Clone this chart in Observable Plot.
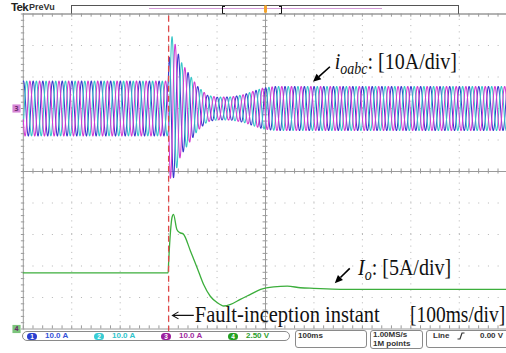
<!DOCTYPE html>
<html>
<head>
<meta charset="utf-8">
<script src="https://cdn.jsdelivr.net/npm/d3@7"></script>
<script src="https://cdn.jsdelivr.net/npm/@observablehq/plot@0.6"></script>
<style>
  html, body { margin: 0; padding: 0; background: #fff; }
  body { width: 506px; height: 353px; overflow: hidden; position: relative;
         font-family: "Liberation Sans", Arial, sans-serif; }
  .abs { position: absolute; }
  #chart { position: absolute; left: 0; top: 13px; }
  #chart svg { overflow: visible; }
  .box { position: absolute; border: 1px solid #8a8a8a; box-sizing: border-box; background: #fff; }
  .st { position: absolute; font-size: 8px; font-weight: bold; color: #333; white-space: nowrap; line-height: 8px; }
  .badge { position: absolute; width: 10px; height: 7px; border-radius: 4px; color: #fff;
           font-size: 6.5px; font-weight: bold; text-align: center; line-height: 7px; }
</style>
</head>
<body>
<div id="hdr"></div>
<div id="chart"></div>
<div id="ftr"></div>
<script>
// ---- acquisition settings ----
const msPerDiv = 100;          // horizontal scale
const phaseAPerDiv = 10;       // ch1-ch3, load currents
const ioAPerDiv = 5;           // ch4, output current magnitude
const phaseGroundDiv = 2;      // ch1-ch3 ground level, divisions above centre
const ioGroundDiv = -5;        // ch4 ground level
const faultTime = 300;         // ms, fault inception
const lineHz = 50;

// ---- load currents i_oabc: peak envelope (ms, A) ----
const envTime = [0, 299, 303, 308, 325, 342, 360, 380, 400, 430, 455, 475, 495, 520, 1000];
const envAmp  = [8.7, 8.7, 22, 23, 15, 11, 7, 4.2, 3.6, 3.7, 4.4, 5.5, 6.5, 7.0, 7.0];
const phaseNames  = ["ia", "ib", "ic"];
const phaseLeadDeg = [120, 0, -120];   // relative to the phase peaking at refPeak
const refPeak = 307;                    // ms

// ---- output current magnitude I_o (ms, A) ----
const ioTime = [0, 299, 300, 304, 307, 310, 317, 323, 330, 345, 359, 372, 386, 400, 414,
                428, 448, 469, 490, 517, 545, 572, 600, 655, 800, 1000];
const ioAmp  = [8.9, 8.9, 10.5, 15.6, 17.7, 18.2, 15.8, 15.3, 15.1, 12.4, 9.7, 7.1, 5.2, 4.2, 3.65,
                3.9, 4.7, 5.5, 6.3, 6.7, 6.8, 6.55, 6.45, 6.3, 6.3, 6.3];

// ---- status bar ----
const chanNum   = [1, 2, 3, 4];
const chanScale = ["10.0 A", "10.0 A", "10.0 A", "2.50 V"];
const horizText = "100ms";
const rateText  = ["1.00MS/s", "1M points"];
const trigText  = ["Line", "0.00 V"];

// colours
const traceColor = ["#3a3acc", "#38c6c8", "#d23cd2"];
const ioColor = "#3cae3c";
const badgeColor = ["#2a3fd0", "#38ccd4", "#9b1d9b", "#22a022"];
const labelColor = ["#3552d8", "#30c4cc", "#a02aa0", "#2c9e2c"];

// ---- build trace tables ----
const env = d3.scaleLinear().domain(envTime).range(envAmp);
const w = 2 * Math.PI * lineHz / 1000;
const phaseRows = phaseNames.map((name, k) => {
  const rows = [];
  for (let t = 0; t <= 1000; t += 0.25) {
    rows.push({t, i: env(t) * Math.cos(w * (t - refPeak) + phaseLeadDeg[k] * Math.PI / 180)});
  }
  return rows;
});
const ioRows = ioTime.map((t, j) => ({t, a: ioAmp[j]}));

// graticule helpers
const majorX = d3.range(1, 10).map(d => d * msPerDiv).filter(d => d !== 500);
const majorY = d3.range(-4, 5).filter(d => d !== 0);
const minorX = d3.range(0, 1001, msPerDiv / 5);
const minorY = d3.range(-5, 5.01, 0.2);
const grid = "#b4b4b4", axisC = "#9a9a9a";

const plot = Plot.plot({
  width: 506, height: 318,
  marginLeft: 22.8, marginRight: -1.2, marginTop: 0.5, marginBottom: 2.5,
  x: {domain: [0, 1000], axis: null},
  y: {domain: [-5, 5], axis: null},
  style: {background: "transparent"},
  marks: [
    // dotted division lines
    Plot.ruleX(majorX, {y1: -5, y2: 5, stroke: grid, strokeWidth: 1, strokeDasharray: "1,5.3"}),
    Plot.ruleY(majorY, {x1: 0, x2: 1000, stroke: grid, strokeWidth: 1, strokeDasharray: "1,8.69"}),
    // centre cross and frame
    Plot.ruleX([500], {y1: -5, y2: 5, stroke: axisC}),
    Plot.ruleY([0], {x1: 0, x2: 1000, stroke: axisC}),
    Plot.ruleX([0], {y1: -5, y2: 5, stroke: axisC}),
    Plot.ruleY([5], {x1: 0, x2: 1000, stroke: "#666"}),
    Plot.ruleY([-5], {x1: 0, x2: 1000, stroke: axisC}),
    // minor ticks
    Plot.ruleX(minorX, {y1: -0.08, y2: 0.08, stroke: axisC}),
    Plot.ruleX(minorX, {y1: 5, y2: 4.9, stroke: axisC}),
    Plot.ruleX(minorX, {y1: -5, y2: -4.9, stroke: axisC}),
    Plot.ruleY(minorY, {x1: 495, x2: 505, stroke: axisC}),
    Plot.ruleY(minorY, {x1: -4, x2: 3, stroke: axisC}),
    // load currents
    ...phaseRows.map((rows, k) => Plot.line(rows, {
      x: "t", y: d => phaseGroundDiv + d.i / phaseAPerDiv,
      stroke: traceColor[k], strokeWidth: 1.05
    })),
    // output current magnitude
    Plot.line(ioRows, {x: "t", y: d => ioGroundDiv + d.a / ioAPerDiv, curve: "monotone-x",
      stroke: ioColor, strokeWidth: 1.3}),
    // fault inception
    Plot.ruleX([faultTime], {y1: -5.1, y2: 5, stroke: "#e04848", strokeWidth: 1.3, strokeDasharray: "6,4"}),
    // ground-level markers
    Plot.dot([{g: phaseGroundDiv, c: "#d585d5"}, {g: ioGroundDiv, c: "#7cc47c"}],
      {x: -14, y: "g", symbol: "square", r: 4.6, fill: "c", stroke: "none"}),
    Plot.text([{g: phaseGroundDiv, n: "3"}, {g: ioGroundDiv, n: "4"}],
      {x: -14, y: "g", text: "n", fill: "#6a2a6a", fontSize: 7, fontWeight: "bold"})
  ]
});
document.getElementById("chart").appendChild(plot);

// ---- annotations (serif, in data coordinates) ----
const X = plot.scale("x"), Y = plot.scale("y");
const svg = d3.select(plot);
const serif = "'Liberation Serif', 'Times New Roman', serif";
const tall = 1.15;   // annotation glyphs are drawn slightly tall

function arrow(t1, v1, t2, v2) {
  const x1 = X.apply(t1), y1 = Y.apply(v1), x2 = X.apply(t2), y2 = Y.apply(v2);
  const a = Math.atan2(y2 - y1, x2 - x1), L = 8, H = 3.6;
  const bx = x2 - L * Math.cos(a), by = y2 - L * Math.sin(a);
  svg.append("line").attr("x1", x1).attr("y1", y1).attr("x2", bx).attr("y2", by)
    .attr("stroke", "#000").attr("stroke-width", 1.6);
  svg.append("path").attr("d", `M${x2},${y2}L${bx - H * Math.sin(a)},${by + H * Math.cos(a)}L${bx + H * Math.sin(a)},${by - H * Math.cos(a)}Z`)
    .attr("fill", "#000");
}
function label(t, v, size, anchor = "start") {
  return svg.append("text")
    .attr("transform", `translate(${X.apply(t)},${Y.apply(v)}) scale(1,${tall})`)
    .attr("text-anchor", anchor).attr("font-family", serif)
    .attr("font-size", size).attr("fill", "#111");
}

// i_oabc label
{
  const t = label(644, 3.23, 20);
  t.append("tspan").attr("font-style", "italic").text("i");
  t.append("tspan").attr("font-style", "italic").attr("font-size", 14).attr("dy", 4).text("oabc");
  t.append("tspan").attr("dy", -4).text(": [10A/div]");
  arrow(634, 3.31, 599, 2.83);
}
// I_o label
{
  const t = label(692, -3.30, 20);
  t.append("tspan").attr("font-style", "italic").text("I");
  t.append("tspan").attr("font-style", "italic").attr("font-size", 14).attr("dy", 4).text("o");
  t.append("tspan").attr("dy", -4).text(": [5A/div]");
  arrow(675, -3.09, 644, -3.56);
}
// fault marker label with its pointer, and the time scale
label(355, -4.79, 20.5).text("Fault-inception instant");
{
  const xa = X.apply(309), xb = X.apply(353), ya = Y.apply(-4.79) - 6.5;
  svg.append("path").attr("d", `M${xb},${ya}H${xa + 1}M${xa + 6},${ya - 3.5}L${xa},${ya}L${xa + 6},${ya + 3.5}`)
    .attr("fill", "none").attr("stroke", "#111").attr("stroke-width", 1.1);
}
label(996, -4.79, 19.5, "end").text("[" + msPerDiv + "ms/div]");

// ---- header strip ----
const hdr = document.getElementById("hdr");
hdr.innerHTML = `
  <div class="abs" style="left:11px;top:1px;font-size:11.5px;line-height:12px;font-weight:bold;letter-spacing:-0.6px;color:#222">Tek</div>
  <div class="abs" style="left:29px;top:2px;font-size:9px;line-height:10px;font-weight:bold;color:#333">PreVu</div>
  <div class="abs" style="left:71px;top:5px;width:388px;height:9px;border:1px solid #555;box-sizing:border-box;border-bottom:none"></div>
  <div class="abs" style="left:149px;top:7.5px;width:233px;height:1.6px;background:#d49ad8"></div>
  <div class="abs" style="left:221.5px;top:5.5px;width:2px;height:6px;border:1.2px solid #111;border-right:none"></div>
  <div class="abs" style="left:278.5px;top:5.5px;width:2px;height:6px;border:1.2px solid #111;border-left:none"></div>
  <div class="abs" style="left:263.5px;top:4.5px;width:3px;height:8px;border-radius:1.5px;background:#f3a32a"></div>`;

// ---- status bar ----
const ftr = document.getElementById("ftr");
let html = `<div class="box" style="left:22px;top:331px;width:268px;height:10px;border-radius:5px"></div>`;
chanNum.forEach((n, k) => {
  const bx = 27 + k * 67;
  html += `<div class="badge" style="left:${bx}px;top:332.5px;background:${badgeColor[k]}">${n}</div>`;
  html += `<div class="st" style="left:${bx + 18}px;top:332px;color:${labelColor[k]}">${chanScale[k]}</div>`;
});
html += `<div class="box" style="left:295px;top:330px;width:72px;height:18px;border-radius:3px"></div>
  <div class="st" style="left:298px;top:332px">${horizText}</div>
  <div class="box" style="left:370px;top:330px;width:53px;height:19px;border-radius:3px"></div>
  <div class="st" style="left:373px;top:331px">${rateText[0]}</div>
  <div class="st" style="left:373px;top:340px">${rateText[1]}</div>
  <div class="box" style="left:426px;top:330px;width:84px;height:18px;border-radius:3px"></div>
  <div class="st" style="left:433px;top:332px">${trigText[0]}</div>
  <svg class="abs" style="left:457px;top:332px" width="8" height="8"><path d="M0.5,7 L3,7 L5,1 L7.5,1" fill="none" stroke="#333" stroke-width="1.2"/></svg>
  <div class="st" style="left:480px;top:332px">${trigText[1]}</div>`;
ftr.innerHTML = html;
</script>
</body>
</html>
